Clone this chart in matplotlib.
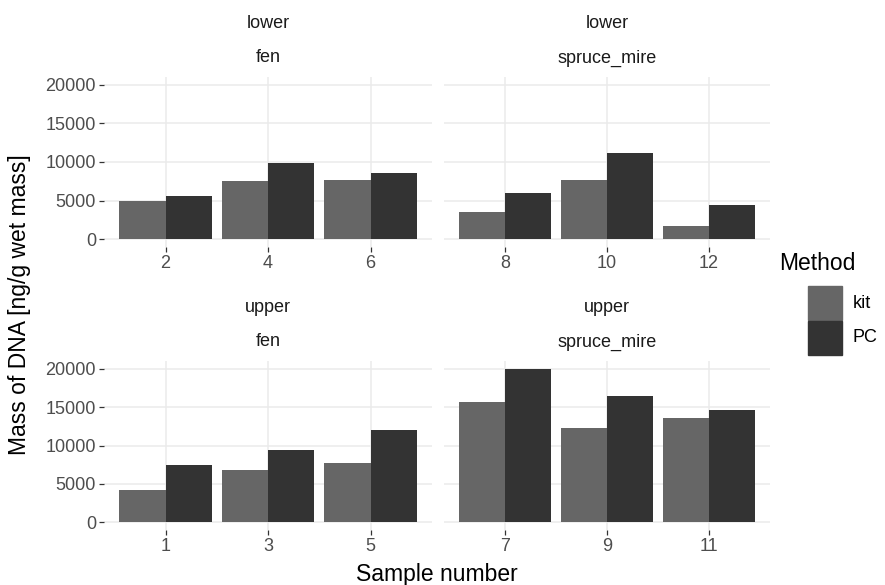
import matplotlib
matplotlib.use("Agg")
import matplotlib.pyplot as plt
from matplotlib.patches import Rectangle
import numpy as np

plt.rcParams['font.family'] = ['Liberation Sans', 'DejaVu Sans']

W, H = 885, 585

# facet data: (position, habitat, samples, kit, PC)
positions = ['lower', 'lower', 'upper', 'upper']
habitats = ['fen', 'spruce_mire', 'fen', 'spruce_mire']
samples = [[2, 4, 6], [8, 10, 12], [1, 3, 5], [7, 9, 11]]
kit_vals = [[4970, 7540, 7710], [3580, 7720, 1720],
            [4160, 6790, 7700], [15710, 12250, 13580]]
pc_vals = [[5660, 9890, 8590], [5960, 11140, 4440],
           [7440, 9430, 12080], [20000, 16440, 14580]]
methods = ['kit', 'PC']
fills = {'kit': '#666666', 'PC': '#333333'}

grid_col = '#ebebeb'
tick_col = '#333333'
lab_col = '#4d4d4d'

fig = plt.figure(figsize=(W / 100, H / 100), dpi=100)


def box(x0, y0, x1, y1):
    # pixel box (top-left origin) -> figure fraction
    return [x0 / W, 1 - y1 / H, (x1 - x0) / W, (y1 - y0) / H]


panels = [box(104, 77, 432, 247), box(444, 77, 770, 247),
          box(104, 361, 432, 530), box(444, 361, 770, 530)]

for i, rect in enumerate(panels):
    ax = fig.add_axes(rect)
    x = np.arange(len(samples[i]))
    w = 0.45
    ax.bar(x - w / 2, kit_vals[i], width=w, color=fills['kit'], zorder=2)
    ax.bar(x + w / 2, pc_vals[i], width=w, color=fills['PC'], zorder=2)
    ax.set_xlim(-0.6, 2.6)
    ax.set_ylim(-1000, 21000)
    ax.set_yticks([0, 5000, 10000, 15000, 20000])
    ax.set_xticks(x)
    ax.set_xticklabels([str(s) for s in samples[i]])
    ax.grid(True, color=grid_col, linewidth=1.1, zorder=0)
    ax.set_axisbelow(True)
    for s in ax.spines.values():
        s.set_visible(False)
    ax.tick_params(axis='both', color=tick_col, length=3.5, width=0.9,
                   labelsize=13, labelcolor=lab_col, pad=2.2)
    if i % 2 == 1:
        ax.tick_params(axis='y', left=False, labelleft=False)
    cx = (rect[0] + rect[2] / 2)
    top = rect[1] + rect[3]
    fig.text(cx, top + 53 / H, positions[i], ha='center', va='center',
             fontsize=13, color='#1a1a1a')
    fig.text(cx, top + 19 / H, habitats[i], ha='center', va='center',
             fontsize=13, color='#1a1a1a')

fig.text(437 / W, 1 - 574 / H, 'Sample number', ha='center', va='center',
         fontsize=16.5)
fig.text(20 / W, 1 - 305 / H, 'Mass of DNA [ng/g wet mass]', ha='center',
         va='center', rotation=90, fontsize=16.5)

# legend
fig.text(779 / W, 1 - 263 / H, 'Method', ha='left', va='center', fontsize=16.5)
for j, m in enumerate(methods):
    y0 = 286 + j * 35
    fig.add_artist(Rectangle((808 / W, 1 - (y0 + 34) / H), 34 / W, 34 / H,
                             transform=fig.transFigure, color=fills[m]))
    fig.text(853 / W, 1 - (y0 + 17) / H, m, ha='left', va='center',
             fontsize=13)

fig.savefig('out.png', dpi=100)
